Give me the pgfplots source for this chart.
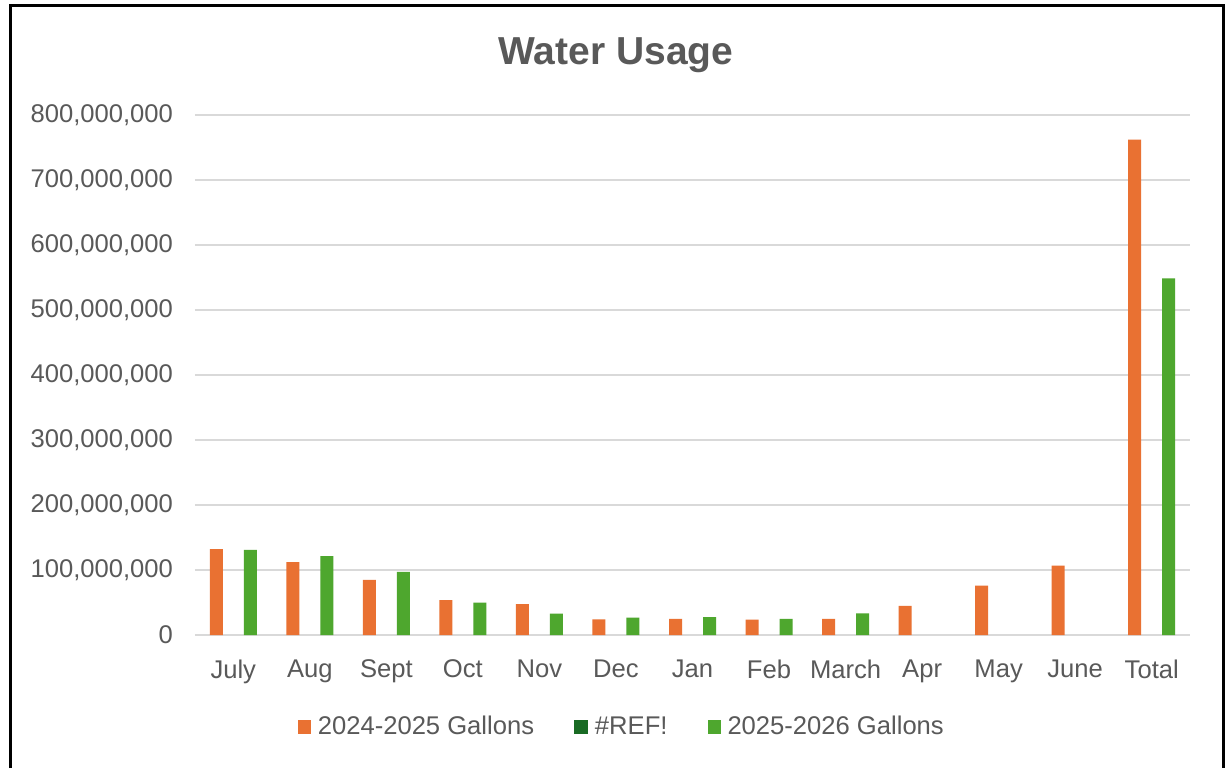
\documentclass[border=0pt]{standalone}
\usepackage{pgfplots}
\pgfplotsset{compat=1.18}
\usepackage{fontspec}
\setmainfont{Liberation Sans}
\definecolor{txt}{HTML}{595959}
\definecolor{gridc}{HTML}{D9D9D9}
\definecolor{c1}{HTML}{E97132}
\definecolor{c2}{HTML}{196B24}
\definecolor{c3}{HTML}{4EA72E}
\begin{document}
\begin{tikzpicture}
\useasboundingbox (0,0) rectangle (614pt,384pt);
\fill[white] (0,0) rectangle (614pt,384pt);
\draw[black, line width=1.5pt] (5pt,0) -- (5pt,381pt) -- (611.5pt,381pt) -- (611.5pt,0);
\node[text=txt, font=\bfseries\fontsize{19.5}{22}\selectfont] at (308pt,356.5pt) {Water Usage};
\begin{axis}[
  at={(97.5pt,66.5pt)}, anchor=south west,
  scale only axis, width=497.5pt, height=260pt,
  xmin=-0.5, xmax=12.5, ymin=0, ymax=800000000,
  ytick={0,100000000,200000000,300000000,400000000,500000000,600000000,700000000,800000000},
  xtick={0,...,12},
  xticklabels={July,Aug,Sept,Oct,Nov,Dec,Jan,Feb,March,Apr,May,June,Total},
  ymajorgrids, grid style={color=gridc, line width=1pt},
  axis line style={draw=none},
  major tick length=0pt,
  tick style={draw=none},
  scaled y ticks=false,
  /pgf/number format/fixed,
  /pgf/number format/1000 sep={,},
  /pgf/number format/assume math mode=true,
  ticklabel style={text=txt, font=\fontsize{12.8}{15}\selectfont},
  yticklabel style={anchor=east, xshift=-7.5pt},
  xticklabel style={anchor=north, yshift=-9pt},
  bar width=6.5pt,
  legend style={at={(0.43,-0.177)}, anchor=center, legend columns=3, draw=none, fill=none,
    font=\fontsize{12.8}{15}\selectfont, text=txt,
    /tikz/every odd column/.style={column sep=1.5pt},
    /tikz/every even column/.style={column sep=18pt}},
  legend cell align=left,
]
\addplot[ybar, bar shift=-8.5pt, fill=c1, draw=none,
  legend image code/.code={\fill[c1] (0pt,-3.3pt) rectangle (6.5pt,3.3pt);}]
  coordinates {(0,132000000) (1,112000000) (2,85000000) (3,53800000) (4,47700000)
  (5,24000000) (6,25000000) (7,23500000) (8,25000000) (9,45000000) (10,75800000)
  (11,106600000) (12,762000000)};
\addlegendentry{2024-2025 Gallons}
\addlegendimage{legend image code/.code={\fill[c2] (0pt,-3.3pt) rectangle (6.5pt,3.3pt);}}
\addlegendentry{\#REF!}
\addplot[ybar, bar shift=8.5pt, fill=c3, draw=none,
  legend image code/.code={\fill[c3] (0pt,-3.3pt) rectangle (6.5pt,3.3pt);}]
  coordinates {(0,130800000) (1,121500000) (2,97000000) (3,49700000) (4,32800000)
  (5,26600000) (6,27700000) (7,25000000) (8,33300000) (12,548600000)};
\addlegendentry{2025-2026 Gallons}
\end{axis}
\end{tikzpicture}
\end{document}
